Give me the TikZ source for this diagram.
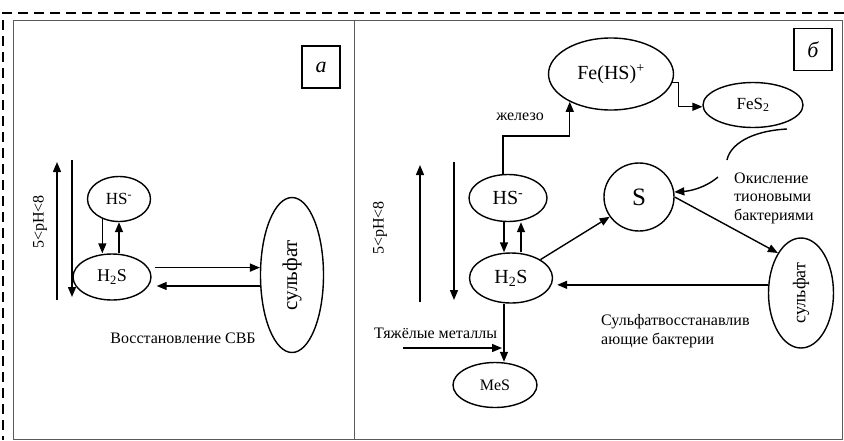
\documentclass[tikz,border=0pt]{standalone}
\usepackage{fontspec}
\setmainfont{Liberation Serif}
\usepackage{graphicx}
\usetikzlibrary{shapes.geometric,arrows.meta}
\definecolor{fr}{RGB}{90, 90, 90}

\begin{document}
\begin{tikzpicture}[
el/.style={ellipse, inner sep=0pt, line width=1.4pt, draw=black},
tag/.style={rectangle, minimum width=38pt, minimum height=42pt, line width=1.4pt, draw=black, font=\fontsize{22}{22}\selectfont\itshape},
txt/.style={inner sep=0pt, font=\fontsize{16}{18.5}\selectfont},
arr/.style={line width=1.4pt, color=black, -{Triangle[length=10pt,width=8pt]}},
ln/.style={line width=1.4pt, color=black}]
\useasboundingbox (0pt, 0pt) rectangle (844pt, -440pt);
\draw [line width=1.4pt, dash pattern=on 10pt off 6pt] (844pt, -13pt) -- (3pt, -13pt) -- (3pt, -440pt);
\draw [line width=1pt, color=fr] (13pt, -20pt) rectangle (354pt, -439pt);
\draw [line width=1pt, color=fr] (354pt, -20pt) rectangle (842pt, -439pt);
\node (1) [tag] at (321pt, -67pt) {a};
\node (2) [el, minimum width=63pt, minimum height=45pt, font=\fontsize{17}{17}\selectfont] at (119pt, -199pt) {HS\textsuperscript{-}};
\node (3) [el, minimum width=78pt, minimum height=46pt, font=\fontsize{18}{18}\selectfont] at (112pt, -277pt) {H\textsubscript{2}S};
\node (4) [el, minimum width=63pt, minimum height=155pt, font=\fontsize{21}{21}\selectfont] at (292pt, -275pt) {\rotatebox{90}{сульфат}};
\node (5) [txt, rotate=90] at (40pt, -222pt) {5<pH<8};
\node (6) [txt] at (183pt, -338pt) {Восстановление СВБ};
\coordinate (7) at (57pt, -300pt);
\coordinate (8) at (57pt, -162pt);
\coordinate (9) at (72pt, -160pt);
\coordinate (10) at (72pt, -297pt);
\draw [arr] (7) to (8);
\draw [arr] (9) to (10);
\draw [arr] (2.230) to (2.230 |- 3.north);
\draw [arr] ([xshift=7pt]3.north) to ([xshift=7pt]3.north |- 2.south);
\draw [arr] ([xshift=3pt]3.east |- 4.167) to (4.167);
\draw [arr] (4.199) to ([xshift=5pt]3.east |- 4.199);
\node (11) [tag] at (813pt, -49.5pt) {б};
\node (12) [el, minimum width=125pt, minimum height=72pt, font=\fontsize{20}{20}\selectfont] at (611pt, -74pt) {Fe(HS)\textsuperscript{+}};
\node (13) [el, minimum width=100pt, minimum height=45pt, font=\fontsize{17}{17}\selectfont] at (753pt, -105pt) {FeS\textsubscript{2}};
\node (14) [el, minimum width=78pt, minimum height=47pt, font=\fontsize{20}{20}\selectfont] at (508pt, -198pt) {HS\textsuperscript{-}};
\node (15) [el, minimum width=70pt, minimum height=68pt, font=\fontsize{25}{25}\selectfont] at (639pt, -197pt) {S};
\node (16) [el, minimum width=83pt, minimum height=50pt, font=\fontsize{20}{20}\selectfont] at (511pt, -278pt) {H\textsubscript{2}S};
\node (17) [el, minimum width=65pt, minimum height=110pt, font=\fontsize{18}{18}\selectfont] at (801pt, -293pt) {\rotatebox{90}{сульфат}};
\node (18) [el, minimum width=84pt, minimum height=45pt, font=\fontsize{16}{16}\selectfont] at (495pt, -385pt) {MeS};
\node (19) [txt, rotate=90] at (380pt, -228pt) {5<pH<8};
\node (20) [txt] at (520pt, -117pt) {железо};
\node (21) [txt, anchor=west, align=left] at (734pt, -198pt) {Окисление\\тионовыми\\бактериями};
\node (22) [txt, anchor=west, align=left] at (601pt, -331pt) {Сульфатвосстанавлив\\ающие бактерии};
\node (23) [txt, anchor=west] at (374pt, -333pt) {Тяжёлые металлы};
\coordinate (24) at (420pt, -302pt);
\coordinate (25) at (420pt, -165pt);
\coordinate (26) at (454pt, -162pt);
\coordinate (27) at (454pt, -300pt);
\coordinate (28) at (403pt, -348pt);
\coordinate (29) at (787pt, -129pt);
\coordinate (30) at (727pt, -160pt);
\coordinate (31) at (718pt, -177pt);
\draw [arr] (24) to (25);
\draw [arr] (26) to (27);
\draw [arr] ([xshift=-5pt]14.north) -- ++(0pt, 38pt) -| (12.214);
\draw [arr] (12.352) -- ++(6pt, 0pt) |- (13.182);
\draw [arr] ([xshift=-4pt]14.south) to ([xshift=-4pt]14.south |- 16.north);
\draw [arr] ([xshift=10pt]16.north) to ([xshift=10pt]16.north |- 14.south);
\draw [arr] (16.32) to (15.214);
\draw [arr] (15.east) to (17.120);
\draw [arr] (17.166) to ([xshift=4pt]16.east |- 17.166);
\draw [arr] ([xshift=-7pt]16.south) to ([xshift=-7pt]16.south |- 18.north);
\draw [arr] (28) -- ++(99pt, 0pt);
\draw [ln] (29) .. controls (750pt, -131pt) and (730pt, -145pt) .. (30);
\draw [arr] (31) .. controls (705pt, -188pt) and (690pt, -191pt) .. (15.8);
\end{tikzpicture}
\end{document}
